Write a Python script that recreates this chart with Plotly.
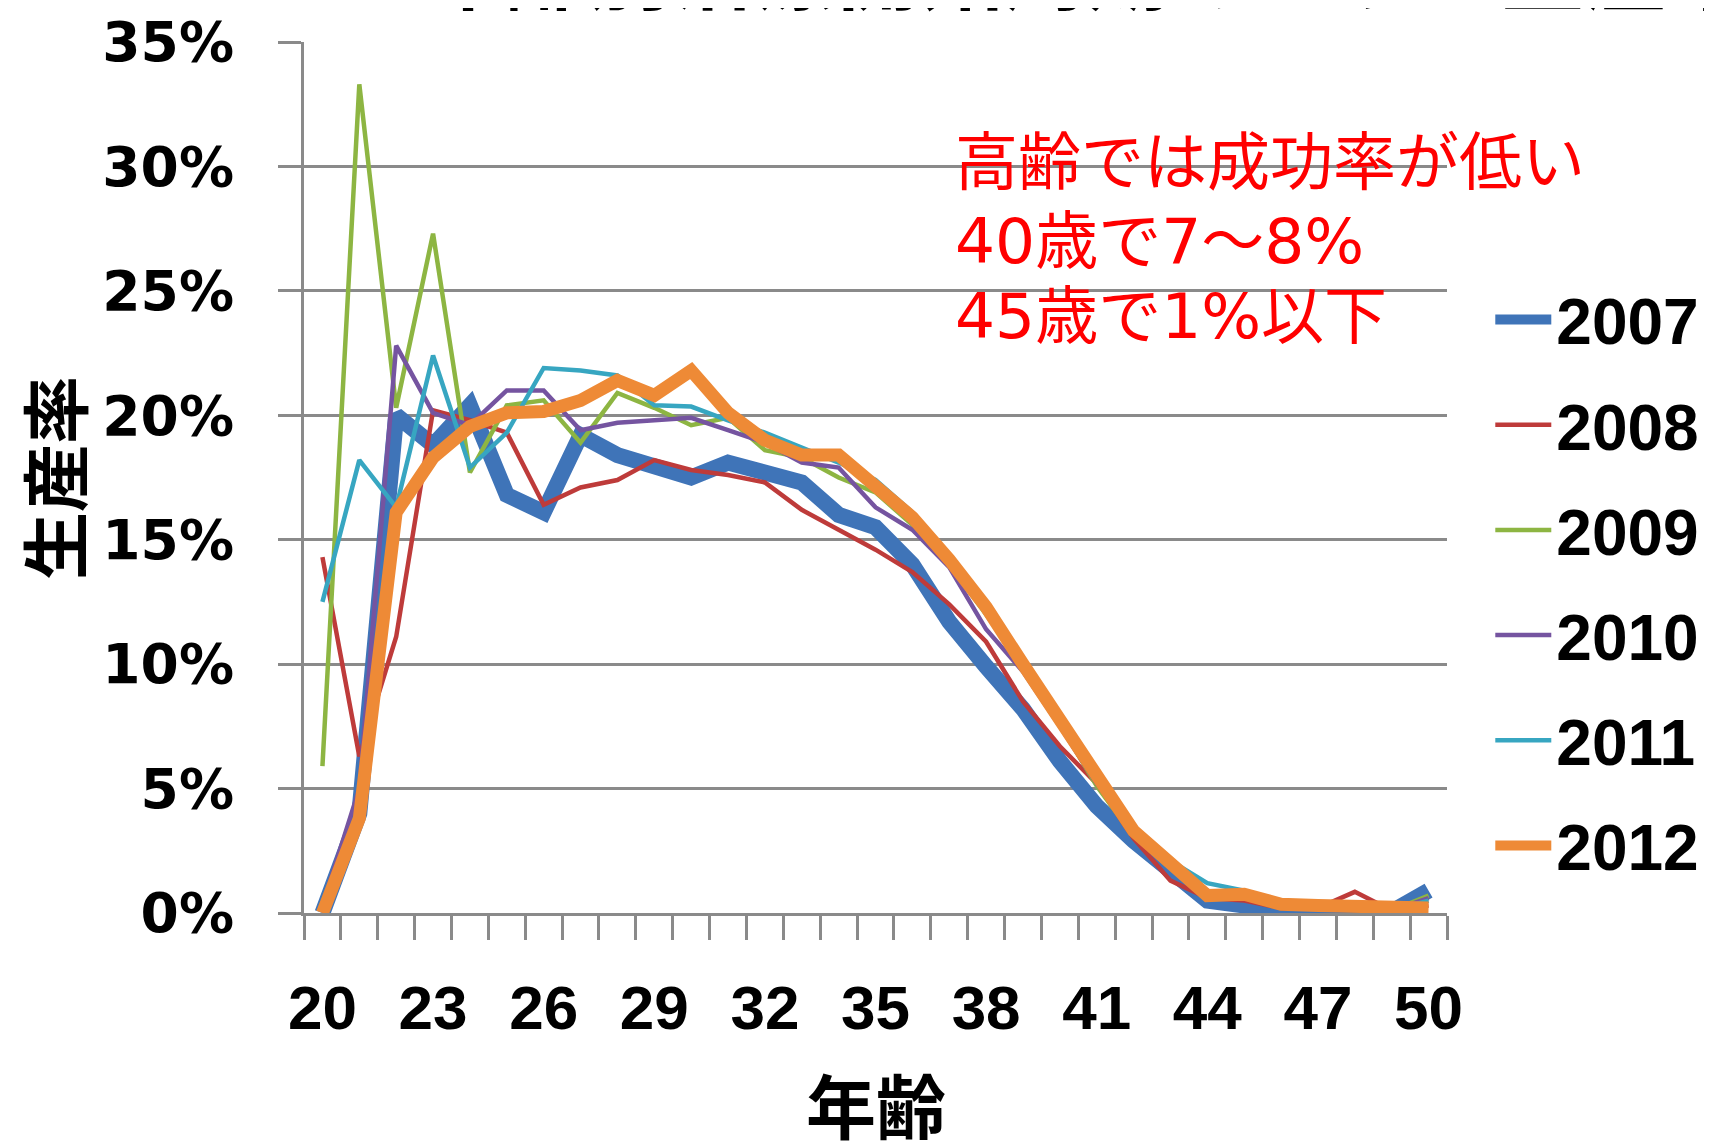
import plotly.graph_objects as go

# ---------------- data ----------------
ages = [20, 21, 22, 23, 24, 25, 26, 27, 28, 29, 30, 31, 32, 33, 34, 35,
        36, 37, 38, 39, 40, 41, 42, 43, 44, 45, 46, 47, 48, 49, 50]

rate_2007 = [0.0, 4.0, 20.0, 18.8, 20.4, 16.8, 16.1, 19.2, 18.4, 18.0, 17.5, 18.1, 17.7, 17.3, 16.0, 15.5,
             14.0, 11.7, 9.9, 8.2, 6.1, 4.3, 2.9, 1.6, 0.5, 0.3, 0.05, 0.05, 0.1, 0.05, 0.9]
rate_2008 = [14.3, 6.3, 11.1, 20.2, 19.8, 19.3, 16.4, 17.1, 17.4, 18.2, 17.8, 17.6, 17.3, 16.2, 15.4, 14.6,
             13.7, 12.4, 10.9, 8.5, 6.7, 5.2, 3.0, 1.3, 0.6, 0.5, 0.2, 0.2, 0.85, 0.1, 0.3]
rate_2009 = [5.9, 33.3, 20.3, 27.3, 17.7, 20.4, 20.6, 18.9, 20.9, 20.3, 19.6, 19.9, 18.6, 18.3, 17.5, 16.9,
             15.6, 14.0, 12.0, 9.9, 7.6, 5.1, 3.1, 1.9, 0.8, 0.7, 0.3, 0.3, 0.2, 0.1, 0.7]
rate_2010 = [0.3, 5.0, 22.8, 20.1, 19.6, 21.0, 21.0, 19.4, 19.7, 19.8, 19.9, 19.4, 18.9, 18.1, 17.9, 16.3,
             15.4, 13.9, 11.4, 9.7, 7.5, 5.2, 3.2, 1.8, 0.8, 0.6, 0.3, 0.2, 0.3, 0.1, 0.6]
rate_2011 = [12.5, 18.2, 16.3, 22.4, 17.9, 19.3, 21.9, 21.8, 21.6, 20.4, 20.35, 19.8, 19.3, 18.7, 18.1, 17.4,
             16.1, 14.3, 12.4, 10.2, 7.8, 5.3, 3.3, 2.1, 1.2, 0.9, 0.4, 0.3, 0.2, 0.1, 0.5]
rate_2012 = [0.0, 3.8, 16.1, 18.3, 19.55, 20.1, 20.15, 20.6, 21.4, 20.8, 21.8, 20.1, 19.0, 18.4, 18.4, 17.2,
             15.9, 14.2, 12.3, 10.0, 7.7, 5.4, 3.3, 2.0, 0.7, 0.75, 0.35, 0.3, 0.3, 0.2, 0.2]

series_names = ["2007", "2008", "2009", "2010", "2011", "2012"]
series_values = [rate_2007, rate_2008, rate_2009, rate_2010, rate_2011, rate_2012]

x_tick_vals = [20, 23, 26, 29, 32, 35, 38, 41, 44, 47, 50]
x_tick_text = ["20", "23", "26", "29", "32", "35", "38", "41", "44", "47", "50"]
y_tick_vals = [0, 5, 10, 15, 20, 25, 30, 35]
y_tick_text = ["0%", "5%", "10%", "15%", "20%", "25%", "30%", "35%"]

title_text = "年齢別治療開始周期あたりの生産率"
x_title = "年齢"
y_title = "生産率"
note_lines = ["高齢では成功率が低い", "40歳で7〜8%", "45歳で1%以下"]

# ---------------- style ----------------
colors = ["#3F74B8", "#BE3B3A", "#8DB542", "#7554A0", "#37A6C1", "#EE8A36"]
widths = [16, 4.5, 4.5, 4.5, 4.5, 13]
GRID = "#8A8A8A"

W, H = 1712, 1141
OFF = 8  # default page body margin in the browser
L, R, T, B = 303.5, 1446.7, 41.5, 912.8


def px_x(p):
    return (p - L) / (R - L)


def px_y(p):
    return (B - p) / (B - T)


fig = go.Figure()
for name, vals, c, w in zip(series_names, series_values, colors, widths):
    fig.add_trace(go.Scatter(
        x=ages, y=vals, name=name, mode="lines", legendgroup=name,
        line=dict(color=c, width=w),
    ))

fig.update_layout(
    template="none",
    width=W - OFF, height=H - OFF,
    margin=dict(l=L - OFF, r=W - R, t=T - OFF, b=H - B, pad=0, autoexpand=False),
    paper_bgcolor="white", plot_bgcolor="white",
    font=dict(family="DejaVu Sans", color="black"),
    showlegend=True,
    legend=dict(
        x=px_x(1490), xanchor="left", y=px_y(271), yanchor="top",
        font=dict(family="Liberation Sans", size=64, weight="bold", color="black"),
        itemwidth=56, tracegroupgap=19, bgcolor="rgba(0,0,0,0)", borderwidth=0,
    ),
    xaxis=dict(
        range=[19.5, 50.5], tickmode="array", tickvals=x_tick_vals, ticktext=x_tick_text,
        ticks="", ticklen=0, showgrid=False, zeroline=False, automargin=False,
        showline=True, linecolor=GRID, linewidth=3,
        minor=dict(tickmode="linear", tick0=19.5, dtick=1, ticks="outside",
                   ticklen=24, tickwidth=2.5, tickcolor=GRID, showgrid=False),
        tickfont=dict(family="Liberation Sans", size=62, weight="bold", color="black"),
        ticklabelstandoff=39,
    ),
    yaxis=dict(
        range=[0, 35], tickmode="array", tickvals=y_tick_vals, ticktext=y_tick_text,
        ticks="outside", ticklen=23, tickwidth=3, tickcolor=GRID,
        showgrid=True, gridcolor=GRID, gridwidth=3, zeroline=False, automargin=False,
        showline=True, linecolor=GRID, linewidth=3,
        tickfont=dict(family="DejaVu Sans", size=55, weight="bold", color="black"),
        ticklabelstandoff=33,
    ),
)

title_font = dict(family="Noto Sans CJK JP", size=70, weight="bold", color="black")
# axis titles
fig.add_annotation(
    text=x_title, xref="paper", yref="paper", x=0.5, y=px_y(1103),
    xanchor="center", yanchor="middle", showarrow=False, font=title_font,
)
fig.add_annotation(
    text=y_title, xref="paper", yref="paper", x=px_x(52), y=px_y(478),
    xanchor="center", yanchor="middle", showarrow=False, textangle=-90,
    font=dict(family="Noto Sans CJK JP", size=68, weight="bold", color="black"),
)

# cropped slide title at the very top
fig.add_annotation(
    text=title_text, xref="paper", yref="paper", x=px_x(420), y=px_y(28),
    xanchor="left", yanchor="bottom", showarrow=False,
    font=dict(family="Noto Sans CJK JP", size=83, weight="bold", color="black"),
)

note_y = [162, 241, 316]
for line, yy in zip(note_lines, note_y):
    fig.add_annotation(
        text=line, xref="paper", yref="paper", x=px_x(953), y=px_y(yy),
        xanchor="left", yanchor="middle", showarrow=False,
        font=dict(family="DejaVu Sans, Noto Sans CJK JP", size=63, color="#FF0000"),
    )

fig.write_html("out.html")
